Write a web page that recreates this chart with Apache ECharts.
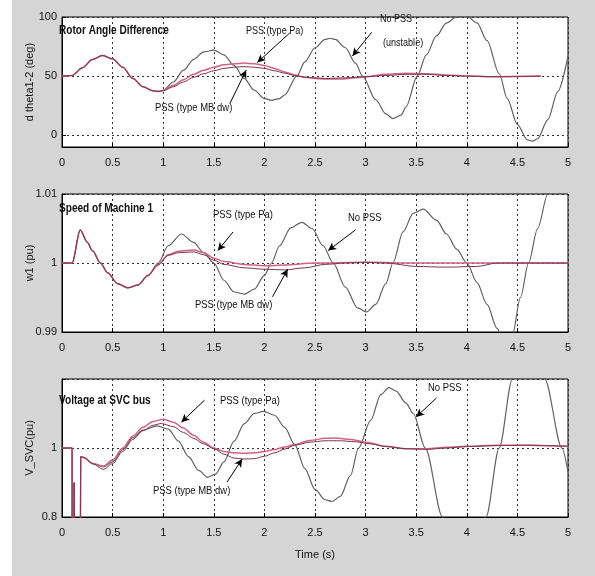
<!DOCTYPE html>
<html><head><meta charset="utf-8">
<script src="https://cdn.jsdelivr.net/npm/echarts@6/dist/echarts.min.js"></script>
<style>html,body{margin:0;padding:0;background:#fff}#c{width:595px;height:576px}</style>
</head><body><div id="c"></div>
<script>
// ---------- DATA (time s, value) ----------
const angleStart = [[0,50],[0.1,50.5],[0.2,57],[0.3,64],[0.4,67.5],[0.5,64.5],[0.6,57.5],[0.7,48],[0.8,41],[0.9,37.5],[0.95,37]];
const angleNoPss = [[1.0,38],[1.1,45],[1.2,55],[1.3,64],[1.4,70.5],[1.5,72],[1.6,68],[1.7,59],[1.8,48],[1.9,38],[2.0,31],[2.07,29.5],[2.15,31],[2.2,34],[2.32,50],[2.4,62],[2.5,74],[2.6,81],[2.65,82],[2.7,81],[2.8,74],[2.9,61],[2.97,50],[3.1,30],[3.2,18],[3.27,14],[3.35,17],[3.4,24],[3.51,50],[3.6,68],[3.7,84],[3.8,95],[3.9,100],[4.0,101],[4.1,95],[4.2,80],[4.32,52],[4.4,31],[4.5,9],[4.6,-4],[4.65,-5],[4.7,-3],[4.8,13],[4.9,37],[5.0,67]];
const anglePa = [[1.0,38],[1.1,42],[1.2,47],[1.3,51.5],[1.4,55],[1.5,57.5],[1.6,59.5],[1.7,60.5],[1.8,61],[1.9,60.5],[2.0,59],[2.1,56.5],[2.2,53.5],[2.3,51],[2.4,49],[2.5,48],[2.6,47.5],[2.75,47.5],[2.9,48.5],[3.0,49.5],[3.2,51.5],[3.4,52.5],[3.6,52],[3.8,51],[4.0,50],[4.3,49.5],[4.73,50]];
const angleMb = [[1.0,37.5],[1.1,41],[1.2,45],[1.3,49],[1.4,52],[1.5,54.5],[1.6,56.5],[1.7,57.5],[1.8,58],[1.9,57.5],[2.0,56.5],[2.1,54.5],[2.2,52.5],[2.3,50.5],[2.4,49],[2.5,48.5],[2.6,48],[2.8,48.5],[3.0,49.5],[3.2,50.5],[3.4,51.5],[3.6,51.5],[3.8,50.5],[4.0,50],[4.3,49.5],[4.73,50]];

const speedStart = [[0,1.0],[0.1,1.0],[0.18,1.0048],[0.25,1.0030],[0.3,1.0018],[0.38,1.0],[0.45,0.9986],[0.55,0.9970],[0.65,0.9964],[0.75,0.9968],[0.85,0.9982]];
const speedNoPss = [[0.95,1.0],[1.05,1.0025],[1.18,1.0042],[1.3,1.0030],[1.4,1.0015],[1.5,1.0],[1.6,0.9975],[1.7,0.9958],[1.8,0.9955],[1.9,0.9962],[2.0,0.9982],[2.07,1.0],[2.15,1.0025],[2.26,1.0051],[2.37,1.0059],[2.47,1.0050],[2.58,1.0025],[2.68,1.0],[2.8,0.9965],[2.92,0.9935],[3.01,0.9929],[3.1,0.9940],[3.2,0.9970],[3.27,1.0],[3.37,1.0045],[3.47,1.0072],[3.57,1.0078],[3.7,1.0062],[3.8,1.0042],[3.9,1.002],[4.0,1.0],[4.1,0.9972],[4.2,0.9940],[4.3,0.9905],[4.38,0.9880],[4.45,0.9895],[4.53,0.995],[4.61,1.0],[4.7,1.005],[4.8,1.01],[4.9,1.0145],[5.0,1.018]];
const speedPa = [[0.95,0.9998],[1.05,1.0012],[1.15,1.0017],[1.3,1.0019],[1.4,1.0015],[1.5,1.0007],[1.6,1.0002],[1.8,0.9998],[2.0,0.9996],[2.2,0.9997],[2.5,1.0],[3.0,1.0001],[3.5,1.0],[4.0,1.0],[5.0,1.0]];
const speedMb = [[0.95,0.9997],[1.05,1.0011],[1.15,1.0015],[1.3,1.0016],[1.4,1.0012],[1.5,1.0004],[1.6,0.9998],[1.8,0.9993],[2.0,0.9991],[2.2,0.9990],[2.4,0.9993],[2.6,0.9998],[2.8,1.0],[3.0,1.0001],[3.2,1.0],[3.5,0.9995],[3.8,0.9994],[4.1,0.9995],[4.3,1.0],[5.0,1.0]];

const voltStart = [[0,1.0],[0.1,1.0],[0.1,0.6],[0.118,0.6],[0.12,0.9],[0.122,0.6],[0.18,0.6],[0.185,0.975],[0.22,0.972],[0.3,0.955]];
const voltNoPss = [[0.41,0.945],[0.5,0.96],[0.6,0.995],[0.7,1.03],[0.8,1.052],[0.94,1.064],[1.05,1.055],[1.15,1.02],[1.25,0.975],[1.35,0.935],[1.44,0.915],[1.52,0.925],[1.6,0.96],[1.7,1.02],[1.8,1.07],[1.9,1.1],[1.99,1.106],[2.1,1.095],[2.2,1.06],[2.3,1.01],[2.4,0.94],[2.5,0.88],[2.6,0.85],[2.67,0.845],[2.75,0.86],[2.85,0.92],[2.93,1.0],[3.05,1.08],[3.15,1.155],[3.23,1.175],[3.3,1.165],[3.4,1.13],[3.47,1.1],[3.59,1.0],[3.76,0.8],[3.95,0.68],[4.19,0.8],[4.32,1.0],[4.45,1.2],[4.6,1.35],[4.77,1.2],[4.94,1.0],[5.0,0.93]];
const voltPa = [[0.41,0.948],[0.5,0.965],[0.6,1.0],[0.7,1.035],[0.8,1.06],[0.9,1.077],[1.0,1.083],[1.1,1.075],[1.2,1.058],[1.3,1.037],[1.4,1.017],[1.5,1.0],[1.6,0.99],[1.7,0.986],[1.8,0.985],[1.9,0.986],[2.0,0.99],[2.1,0.996],[2.2,1.003],[2.3,1.01],[2.45,1.022],[2.6,1.028],[2.7,1.029],[2.85,1.025],[3.0,1.017],[3.2,1.005],[3.4,0.998],[3.6,0.998],[3.8,1.002],[4.0,1.005],[4.3,1.008],[4.6,1.008],[5.0,1.005]];
const voltMb = [[0.41,0.938],[0.5,0.955],[0.6,0.99],[0.7,1.025],[0.8,1.05],[0.9,1.066],[0.98,1.071],[1.1,1.062],[1.2,1.045],[1.3,1.028],[1.4,1.012],[1.5,0.998],[1.6,0.982],[1.7,0.971],[1.8,0.968],[1.9,0.969],[2.0,0.976],[2.1,0.986],[2.2,0.997],[2.3,1.008],[2.45,1.017],[2.6,1.021],[2.75,1.021],[2.9,1.018],[3.05,1.012],[3.2,1.004],[3.4,0.998],[3.6,0.996],[3.8,1.0],[4.0,1.004],[4.3,1.007],[4.6,1.008],[5.0,1.005]];

// tick values
const angleTicks = [0, 50, 100];
const speedTicks = [0.99, 1, 1.01];
const voltTicks = [0.8, 1, 1.2];
const voltLabels = [0.8, 1];

// annotation arrows (data coords): [plot, from, to]
const arrows = [
  [0, [2.25, 86.5], [1.93, 61.5]],
  [0, [1.66, 27], [1.82, 55]],
  [0, [3.06, 87], [2.87, 67]],
  [1, [1.69, 1.0045], [1.54, 1.0018]],
  [1, [2.9, 1.0048], [2.63, 1.0018]],
  [1, [2.08, 0.9951], [2.23, 0.9991]],
  [2, [1.41, 1.139], [1.18, 1.075]],
  [2, [1.63, 0.901], [1.78, 0.968]],
  [2, [3.7, 1.145], [3.5, 1.09]]
];

// ---------- CHART ----------
const FONT = '"Liberation Sans",Arial,sans-serif';
const grids = [
  {left: 62, width: 506, top: 17, height: 130},
  {left: 62, width: 506, top: 194, height: 138},
  {left: 62, width: 506, top: 379, height: 138}
].map(g => Object.assign(g, {show: true, backgroundColor: '#fff', borderColor: '#000', borderWidth: 1, containLabel: false}));

function xAxis(i) {
  return {
    type: 'value', gridIndex: i, min: 0, max: 5, interval: 0.5,
    axisLine: {show: true, onZero: false, lineStyle: {color: '#000'}},
    axisTick: {show: true, inside: true, length: 4, lineStyle: {color: '#000'}},
    axisLabel: {color: '#111', fontSize: 11, fontFamily: FONT, margin: 10},
    splitLine: {show: true, lineStyle: {color: '#333', type: [2, 3], width: 1}},
    name: i === 2 ? 'Time (s)' : '', nameLocation: 'middle', nameGap: 32, nameMoveOverlap: false,
    nameTextStyle: {color: '#111', fontSize: 11, fontFamily: FONT}
  };
}
function yAxis(i, min, max, ticks, labels, name, fmt) {
  return {
    type: 'value', gridIndex: i, min: min, max: max,
    axisLine: {show: true, onZero: false, lineStyle: {color: '#000'}},
    axisTick: {show: true, inside: true, length: 4, customValues: ticks, lineStyle: {color: '#000'}},
    axisLabel: {color: '#111', fontSize: 11, fontFamily: FONT, margin: 5, customValues: labels, formatter: fmt},
    splitLine: {show: true, lineStyle: {color: '#333', type: [2, 3], width: 1}},
    name: name, nameLocation: 'middle', nameGap: 27, nameRotate: 90, nameMoveOverlap: false,
    nameTextStyle: {color: '#111', fontSize: 11, fontFamily: FONT}
  };
}

const COL_NO = '#606060', COL_PA = '#d2628a', COL_MB = '#7a3550';
function line(data, i, color, width, z, withArrows) {
  const s = {
    type: 'line', xAxisIndex: i, yAxisIndex: i, data: data,
    showSymbol: false, smooth: 0.3, smoothMonotone: 'x', clip: true,
    lineStyle: {color: color, width: width}, z: z, animation: false, silent: true
  };
  if (withArrows) {
    s.markLine = {
      silent: true, symbol: ['none', 'arrow'], symbolSize: [6, 8], animation: false,
      label: {show: false},
      lineStyle: {color: '#000', width: 1, type: 'solid'},
      data: arrows.filter(a => a[0] === i).map(a => [{coord: a[1]}, {coord: a[2]}])
    };
  }
  return s;
}

const txt = (x, y, s, size, bold, sx) => ({
  type: 'text', left: x, top: y, z: 50, silent: true, scaleX: sx || 0.86, originX: 0,
  style: {text: s, fill: '#111', font: (bold ? 'bold ' : '') + size + 'px ' + FONT}
});

const chart = echarts.init(document.getElementById('c'), null, {renderer: 'canvas'});
chart.setOption({
  backgroundColor: '#d5d5d5',
  animation: false,
  grid: grids,
  xAxis: [xAxis(0), xAxis(1), xAxis(2)],
  yAxis: [
    yAxis(0, -10, 100, angleTicks, angleTicks, 'd theta1-2 (deg)', v => String(v)),
    yAxis(1, 0.99, 1.01, speedTicks, speedTicks, 'w1 (pu)', v => String(+v.toFixed(2))),
    yAxis(2, 0.8, 1.2, voltTicks, voltLabels, 'V_SVC(pu)', v => String(+v.toFixed(1)))
  ],
  series: [
    line(angleStart.concat(angleNoPss), 0, COL_NO, 1.2, 2, true),
    line(angleStart.concat(anglePa), 0, COL_PA, 1.5, 3),
    line(angleStart.concat(angleMb), 0, COL_MB, 1, 4),
    line(speedStart.concat(speedNoPss), 1, COL_NO, 1.2, 2, true),
    line(speedStart.concat(speedPa), 1, COL_PA, 1.5, 3),
    line(speedStart.concat(speedMb), 1, COL_MB, 1, 4),
    line(voltStart.concat(voltNoPss), 2, COL_NO, 1.2, 2, true),
    line(voltStart.concat(voltPa), 2, COL_PA, 1.5, 3),
    line(voltStart.concat(voltMb), 2, COL_MB, 1, 4)
  ],
  graphic: [
    {type: 'rect', left: 0, top: 0, shape: {width: 12, height: 576}, style: {fill: '#fff'}, z: 0, silent: true},
    txt(59, 25, 'Rotor Angle Difference', 12, true, 0.84),
    txt(246, 26, 'PSS (type Pa)', 10.5),
    txt(380, 14, 'No PSS', 10.5),
    txt(383, 38, '(unstable)', 10.5),
    txt(155, 102, 'PSS (type MB dw)', 11),
    txt(59, 203, 'Speed of Machine 1', 12, true, 0.84),
    txt(213, 209, 'PSS (type Pa)', 11),
    txt(348, 212, 'No PSS', 11),
    txt(195, 299, 'PSS (type MB dw)', 11),
    txt(59, 395, 'Voltage at SVC bus', 12, true, 0.84),
    txt(220, 395, 'PSS (type Pa)', 11),
    txt(428, 382, 'No PSS', 11),
    txt(153, 485, 'PSS (type MB dw)', 11)
  ]
});
</script></body></html>
